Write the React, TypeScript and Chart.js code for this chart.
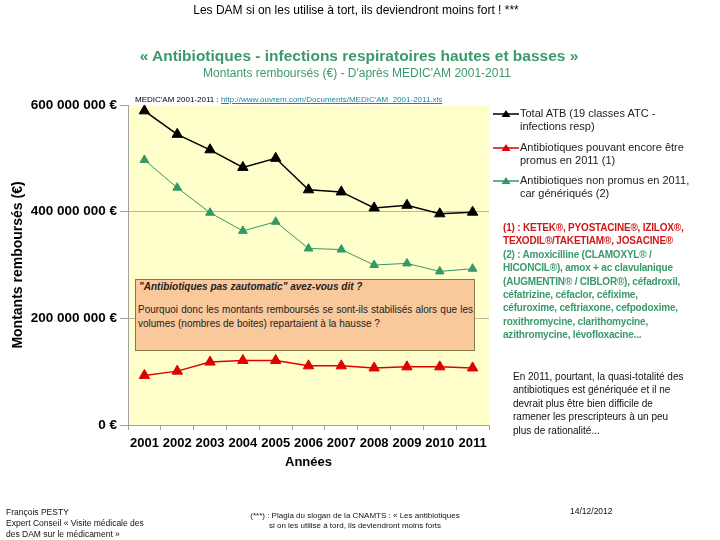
import React, { useEffect, useRef } from "react";
import { Chart, registerables } from "chart.js";

Chart.register(...registerables);

const years = ["2001", "2002", "2003", "2004", "2005", "2006", "2007", "2008", "2009", "2010", "2011"];
const totalATB = [589e6, 545e6, 516e6, 483e6, 500e6, 441e6, 437e6, 407e6, 412e6, 396e6, 399e6];
const promus = [93e6, 101e6, 118e6, 121e6, 121e6, 111e6, 111e6, 107e6, 109e6, 109e6, 107e6];
const nonPromus = [497e6, 445e6, 398e6, 364e6, 381e6, 331e6, 329e6, 300e6, 303e6, 288e6, 293e6];
const yTicks = [0, 200e6, 400e6, 600e6];

const seriesNames = [
  "Total ATB (19 classes ATC - infections resp)",
  "Antibiotiques pouvant encore être promus en 2011 (1)",
  "Antibiotiques non promus en 2011, car génériqués (2)",
];

const FONT = "'Liberation Sans', Arial, sans-serif";

function fmt(v: number): string {
  if (v === 0) return "0 €";
  return String(Math.round(v)).replace(/\B(?=(\d{3})+(?!\d))/g, " ") + " €";
}

const bgPlugin = {
  id: "bgArea",
  beforeDraw(chart: any) {
    const { ctx, chartArea } = chart;
    ctx.save();
    ctx.fillStyle = "#FFFFCC";
    ctx.fillRect(chartArea.left, chartArea.top, chartArea.right - chartArea.left, chartArea.bottom - chartArea.top);
    ctx.restore();
  },
};

const abs = (l: number, t: number, extra: React.CSSProperties = {}): React.CSSProperties => ({
  position: "absolute",
  left: l,
  top: t,
  whiteSpace: "nowrap",
  ...extra,
});

function LegendIcon({ color }: { color: string }) {
  return (
    <svg width="26" height="10" style={{ position: "absolute", left: -27, top: 2 }}>
      <line x1="0" y1="5" x2="26" y2="5" stroke={color} strokeWidth="1.5" />
      <polygon points="13,1 17.5,8 8.5,8" fill={color} />
    </svg>
  );
}

export default function App() {
  const ref = useRef<HTMLCanvasElement>(null);

  useEffect(() => {
    if (!ref.current) return;
    const chart = new Chart(ref.current, {
      type: "line",
      data: {
        labels: years,
        datasets: [
          {
            label: seriesNames[0],
            data: totalATB,
            borderColor: "#000000",
            backgroundColor: "#000000",
            borderWidth: 1.5,
            pointStyle: "triangle",
            pointRadius: 6,
            pointBorderWidth: 1,
          },
          {
            label: seriesNames[1],
            data: promus,
            borderColor: "#E00000",
            backgroundColor: "#E00000",
            borderWidth: 1.5,
            pointStyle: "triangle",
            pointRadius: 6,
            pointBorderWidth: 1,
          },
          {
            label: seriesNames[2],
            data: nonPromus,
            borderColor: "#339966",
            backgroundColor: "#339966",
            borderWidth: 1,
            pointStyle: "triangle",
            pointRadius: 5,
            pointBorderWidth: 1,
          },
        ],
      },
      options: {
        responsive: false,
        animation: false,
        layout: { padding: { left: 0, top: 105, right: 231, bottom: 0 } },
        plugins: {
          legend: { display: false },
          tooltip: { enabled: false },
        },
        scales: {
          x: {
            offset: true,
            grid: {
              offset: true,
              drawOnChartArea: false,
              tickColor: "#A0A0A0",
              tickLength: 5,
            },
            border: { display: true, color: "#A0A0A0" },
            ticks: {
              autoSkip: false,
              maxRotation: 0,
              padding: 6,
              color: "#000",
              font: { family: FONT, size: 13, weight: "bold" },
            },
            title: {
              display: true,
              text: "Années",
              color: "#000",
              font: { family: FONT, size: 13, weight: "bold" },
              padding: { top: 0, bottom: 70 },
            },
            afterFit(scale: any) {
              scale.height = 115;
            },
          },
          y: {
            min: 0,
            max: 600e6,
            afterBuildTicks(scale: any) {
              scale.ticks = yTicks.map((v) => ({ value: v }));
            },
            grid: {
              color: (c: any) => (c.tick && (c.tick.value === 200e6 || c.tick.value === 400e6) ? "#B8B89C" : "rgba(0,0,0,0)"),
              tickColor: "#A0A0A0",
              tickLength: 8,
            },
            border: { display: true, color: "#A0A0A0" },
            ticks: {
              padding: 3,
              color: "#000",
              font: { family: FONT, size: 13.5, weight: "bold" },
              callback: (v: any) => fmt(Number(v)),
            },
            title: {
              display: true,
              text: "Montants remboursés (€)",
              color: "#000",
              font: { family: FONT, size: 14, weight: "bold" },
              padding: { top: 10, bottom: 0 },
            },
            afterFit(scale: any) {
              scale.width = 128;
            },
          },
        },
      },
      plugins: [bgPlugin],
    });
    return () => chart.destroy();
  }, []);

  const legendText: React.CSSProperties = { fontSize: 11, lineHeight: "12.5px", color: "#222" };
  const noteRed: React.CSSProperties = { color: "#D01818", fontWeight: "bold" };
  const noteGreen: React.CSSProperties = { color: "#3A9A6A", fontWeight: "bold" };

  return (
    <div
      style={{
        position: "fixed",
        left: 0,
        top: 0,
        width: 720,
        height: 540,
        background: "#fff",
        fontFamily: FONT,
        overflow: "hidden",
      }}
    >
      <canvas ref={ref} width={720} height={540} style={{ position: "absolute", left: 0, top: 0, width: 720, height: 540 }} />

      <div style={abs(0, 3, { width: 712, textAlign: "center", fontSize: 12, color: "#000" })}>
        Les DAM si on les utilise à tort, ils deviendront moins fort ! ***
      </div>
      <div style={abs(0, 47, { width: 718, textAlign: "center", fontSize: 15.5, fontWeight: "bold", color: "#3A9A6A" })}>
        « Antibiotiques - infections respiratoires hautes et basses »
      </div>
      <div style={abs(0, 66, { width: 714, textAlign: "center", fontSize: 12, color: "#3A9A6A" })}>
        Montants remboursés (€) - D'après MEDIC'AM 2001-2011
      </div>
      <div style={abs(135, 95, { fontSize: 8, color: "#000" })}>
        MEDIC'AM 2001-2011 :{" "}
        <span style={{ color: "#1A8A9A", textDecoration: "underline" }}>
          http://www.ouvrem.com/Documents/MEDIC'AM_2001-2011.xls
        </span>
      </div>

      <div
        style={{
          position: "absolute",
          left: 135,
          top: 279,
          width: 338,
          height: 70,
          background: "#F9C99C",
          border: "1px solid #8A7A40",
          boxSizing: "content-box",
          fontSize: 10,
          color: "#222",
        }}
      >
        <div style={{ position: "absolute", left: 3, top: 1, fontWeight: "bold", fontStyle: "italic", whiteSpace: "nowrap", fontSize: 10 }}>
          "Antibiotiques pas zautomatic" avez-vous dit ?
        </div>
        <div style={{ position: "absolute", left: 2, top: 23, width: 335, lineHeight: "14px", textAlign: "justify" }}>
          Pourquoi donc les montants remboursés se sont-ils stabilisés alors que les volumes (nombres de boites) repartaient à la hausse ?
        </div>
      </div>

      <div style={abs(520, 107, legendText)}>
        <LegendIcon color="#000" />
        Total ATB (19 classes ATC -<br />
        infections resp)
      </div>
      <div style={abs(520, 141, legendText)}>
        <LegendIcon color="#E00000" />
        Antibiotiques pouvant encore être<br />
        promus en 2011 (1)
      </div>
      <div style={abs(520, 174, legendText)}>
        <LegendIcon color="#339966" />
        Antibiotiques non promus en 2011,<br />
        car génériqués (2)
      </div>

      <div style={abs(503, 221, { fontSize: 10, lineHeight: "13.4px", letterSpacing: -0.2 })}>
        <span style={noteRed}>
          (1) : KETEK®, PYOSTACINE®, IZILOX®,
          <br />
          TEXODIL®/TAKETIAM®, JOSACINE®
        </span>
        <br />
        <span style={noteGreen}>
          (2) : Amoxicilline (CLAMOXYL® /
          <br />
          HICONCIL®), amox + ac clavulanique
          <br />
          (AUGMENTIN® / CIBLOR®), céfadroxil,
          <br />
          céfatrizine, céfaclor, céfixime,
          <br />
          céfuroxime, ceftriaxone, cefpodoxime,
          <br />
          roxithromycine, clarithomycine,
          <br />
          azithromycine, lévofloxacine...
        </span>
      </div>

      <div style={abs(513, 370, { fontSize: 10, lineHeight: "13.4px", color: "#111" })}>
        En 2011, pourtant, la quasi-totalité des
        <br />
        antibiotiques est génériquée et il ne
        <br />
        devrait plus être bien difficile de
        <br />
        ramener les prescripteurs à un peu
        <br />
        plus de rationalité...
      </div>

      <div style={abs(6, 507, { fontSize: 8.5, lineHeight: "11px", color: "#111" })}>
        François PESTY
        <br />
        Expert Conseil « Visite médicale des
        <br />
        des DAM sur le médicament »
      </div>
      <div style={abs(235, 511, { width: 240, textAlign: "center", fontSize: 8, lineHeight: "10px", color: "#111" })}>
        (***) : Plagia du slogan de la CNAMTS : « Les antibiotiques
        <br />
        si on les utilise à tord, ils deviendront moins forts
      </div>
      <div style={abs(570, 506, { fontSize: 8.5, color: "#111" })}>14/12/2012</div>
    </div>
  );
}
